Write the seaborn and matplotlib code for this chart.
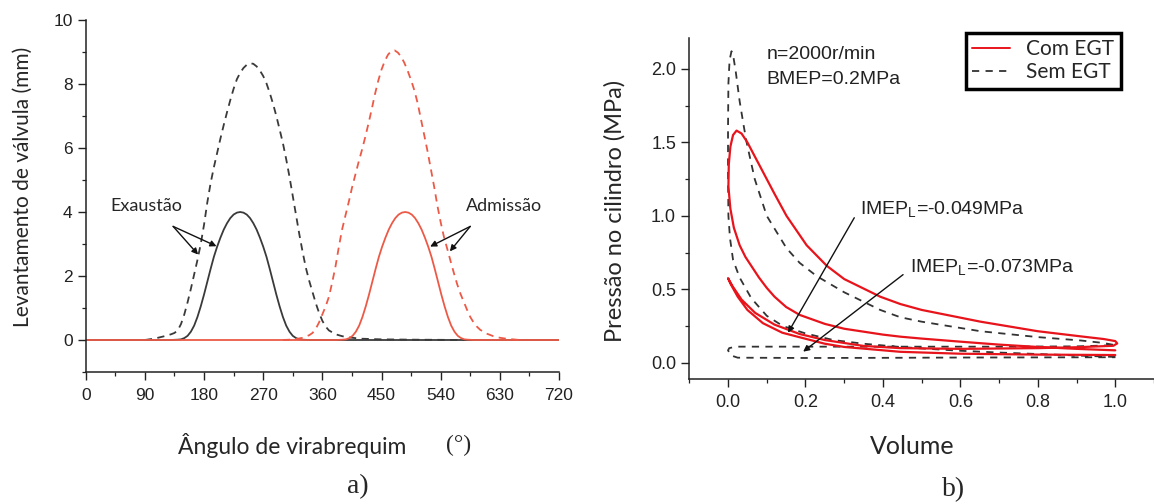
import matplotlib
matplotlib.use("Agg")
import matplotlib.pyplot as plt
from matplotlib.lines import Line2D
from matplotlib.ticker import MultipleLocator
import seaborn as sns
import pandas as pd

# ---------------- data: panel a) valve lift ----------------
exh_egt_angle = [0, 130, 140, 145, 150, 155, 160, 165, 170, 175, 180, 185, 190, 195, 200, 205, 210, 215,
                 220, 225, 230, 235, 240, 245, 250, 255, 260, 265, 270, 275, 280, 285, 290, 295, 300,
                 305, 310, 315, 320, 325, 330, 340, 720]
exh_egt_lift = [0, 0, 0.01, 0.02, 0.06, 0.13, 0.26, 0.45, 0.72, 1.05, 1.42, 1.82, 2.22, 2.6, 2.92, 3.2,
                3.45, 3.65, 3.81, 3.92, 3.98, 4.0, 3.98, 3.92, 3.81, 3.65, 3.45, 3.2, 2.92, 2.6, 2.22,
                1.82, 1.42, 1.05, 0.72, 0.45, 0.26, 0.13, 0.06, 0.02, 0.01, 0, 0]

int_egt_angle = [0, 381, 391, 396, 401, 406, 411, 416, 421, 426, 431, 436, 441, 446, 451, 456, 461, 466,
                 471, 476, 481, 486, 491, 496, 501, 506, 511, 516, 521, 526, 531, 536, 541, 546, 551,
                 556, 561, 566, 571, 576, 581, 591, 720]
int_egt_lift = [0, 0, 0.01, 0.02, 0.06, 0.13, 0.26, 0.45, 0.72, 1.05, 1.42, 1.82, 2.22, 2.6, 2.92, 3.2,
                3.45, 3.65, 3.81, 3.92, 3.98, 4.0, 3.98, 3.92, 3.81, 3.65, 3.45, 3.2, 2.92, 2.6, 2.22,
                1.82, 1.42, 1.05, 0.72, 0.45, 0.26, 0.13, 0.06, 0.02, 0.01, 0, 0]

exh_base_angle = [90, 100, 110, 120, 130, 135, 140, 145, 150, 155, 160, 165, 170, 175, 180, 185, 190,
                  195, 200, 205, 210, 215, 220, 225, 230, 235, 240, 245, 250, 255, 260, 265, 270, 275,
                  280, 285, 290, 295, 300, 305, 310, 315, 320, 325, 330, 335, 340, 345, 350, 355, 360,
                  365, 370, 380, 390, 400, 420, 450, 500, 580]
exh_base_lift = [0.0, 0.03, 0.07, 0.12, 0.18, 0.22, 0.3, 0.5, 0.8, 1.18, 1.6, 2.05, 2.5, 3.0, 3.6, 4.3,
                 4.9, 5.4, 5.85, 6.3, 6.72, 7.12, 7.5, 7.85, 8.15, 8.35, 8.5, 8.6, 8.65, 8.63, 8.55,
                 8.42, 8.25, 8.02, 7.72, 7.38, 7.0, 6.58, 6.15, 5.65, 5.1, 4.5, 3.9, 3.3, 2.75, 2.25,
                 1.85, 1.5, 1.15, 0.85, 0.6, 0.42, 0.3, 0.18, 0.12, 0.08, 0.04, 0.02, 0.01, 0.0]

int_base_angle = [300, 310, 320, 330, 340, 345, 350, 355, 360, 365, 370, 375, 380, 385, 390, 395, 400,
                  405, 410, 415, 420, 425, 430, 435, 440, 445, 450, 455, 460, 465, 470, 475, 480, 485,
                  490, 495, 500, 505, 510, 515, 520, 525, 530, 535, 540, 545, 550, 555, 560, 565, 570,
                  575, 580, 585, 590, 595, 600, 610, 620, 630, 640, 650, 660]
int_base_lift = [0.0, 0.01, 0.03, 0.07, 0.15, 0.22, 0.35, 0.55, 0.8, 1.05, 1.35, 1.8, 2.3, 2.9, 3.45,
                 3.88, 4.3, 4.75, 5.15, 5.55, 5.92, 6.32, 6.75, 7.2, 7.68, 8.1, 8.45, 8.72, 8.92, 9.03,
                 9.05, 8.98, 8.85, 8.65, 8.4, 8.12, 7.8, 7.4, 6.9, 6.4, 5.9, 5.35, 4.8, 4.2, 3.68, 3.22,
                 2.85, 2.47, 2.1, 1.75, 1.45, 1.2, 0.95, 0.72, 0.55, 0.42, 0.32, 0.2, 0.12, 0.07, 0.04,
                 0.02, 0.0]

# ---------------- data: panel b) p-V loops ----------------
egt_volume = [1.0, 0.9, 0.8, 0.7, 0.6, 0.5, 0.445, 0.4, 0.3, 0.25, 0.185, 0.15, 0.12, 0.1, 0.08, 0.06,
              0.045, 0.03, 0.015, 0.006, 0.001, 0.002, 0.006, 0.013, 0.022,
              0.035, 0.05, 0.07, 0.09, 0.12, 0.151, 0.203, 0.255, 0.3, 0.393, 0.445, 0.5, 0.652, 0.8,
              0.911, 0.97, 1.0, 1.005, 0.995,
              0.9, 0.8, 0.6, 0.445, 0.35, 0.25, 0.185, 0.12, 0.07, 0.035, 0.012, 0.0,
              0.006, 0.025, 0.05, 0.09, 0.14, 0.185, 0.25, 0.3, 0.445, 0.6, 0.8, 1.0]
egt_pressure = [0.085, 0.095, 0.108, 0.124, 0.144, 0.165, 0.178, 0.192, 0.232, 0.265, 0.326, 0.38, 0.45,
                0.51, 0.58, 0.66, 0.72, 0.80, 0.92, 1.05, 1.2, 1.35, 1.47, 1.55, 1.58,
                1.56, 1.5, 1.4, 1.3, 1.15, 1.0, 0.8, 0.66, 0.57, 0.45, 0.40, 0.36, 0.28, 0.215,
                0.18, 0.162, 0.148, 0.132, 0.116,
                0.106, 0.1, 0.095, 0.1, 0.115, 0.155, 0.196, 0.26, 0.34, 0.43, 0.52, 0.576,
                0.54, 0.45, 0.36, 0.27, 0.205, 0.174, 0.13, 0.108, 0.075, 0.062, 0.056, 0.053]

base_volume = [1.0, 0.9, 0.8, 0.7, 0.6, 0.5, 0.445, 0.35, 0.272, 0.2, 0.142, 0.1, 0.06, 0.03, 0.013,
               0.005, 0.001, 0.0, 0.0, 0.001, 0.004, 0.009,
               0.014, 0.02, 0.03, 0.04, 0.048, 0.069, 0.1, 0.151, 0.185, 0.229, 0.3, 0.393, 0.445,
               0.5, 0.652, 0.8, 0.911, 0.97, 1.0,
               0.9, 0.7, 0.5, 0.3, 0.1, 0.02, 0.003, 0.0, 0.008, 0.025, 0.2, 0.4, 0.6, 0.8, 1.0]
base_pressure = [0.04, 0.05, 0.06, 0.07, 0.082, 0.098, 0.108, 0.13, 0.155, 0.2, 0.25, 0.32, 0.44, 0.58,
                 0.70, 0.85, 1.0, 1.3, 1.6, 1.9, 2.06, 2.12,
                 2.08, 1.98, 1.78, 1.62, 1.5, 1.25, 1.0, 0.78, 0.68, 0.59, 0.48, 0.36, 0.31,
                 0.28, 0.215, 0.175, 0.152, 0.135, 0.12,
                 0.112, 0.11, 0.11, 0.11, 0.11, 0.11, 0.1, 0.085, 0.05, 0.035, 0.033, 0.034, 0.036,
                 0.037, 0.038]

legend_labels = ["Com EGT", "Sem EGT"]
a_xticks = [0, 90, 180, 270, 360, 450, 540, 630, 720]
a_yticks = [0, 2, 4, 6, 8, 10]
b_xticks = [0.0, 0.2, 0.4, 0.6, 0.8, 1.0]
b_yticks = [0.0, 0.5, 1.0, 1.5, 2.0]

# ---------------- style ----------------
sns.set_style("ticks")
plt.rcParams["font.family"] = ["Liberation Sans", "DejaVu Sans"]
plt.rcParams["mathtext.fontset"] = "custom"
plt.rcParams["mathtext.rm"] = "Liberation Sans"

W, H = 1154, 504
fig = plt.figure(figsize=(W / 100, H / 100), dpi=100)
fig.patch.set_facecolor("white")

def fx(px):
    return px / W

def fy(py):
    return 1 - py / H

BLACK = "#3a3a3a"
SALMON = "#ec5a47"
RED = "#e8141c"
TICKFONT = ["Liberation Sans", "DejaVu Sans"]
LABELFONT = ["Lato", "DejaVu Sans"]
SERIF = ["Liberation Serif", "DejaVu Serif"]

def style_axes(ax, size):
    sns.despine(ax=ax)
    for s in ("left", "bottom"):
        ax.spines[s].set_linewidth(1.1)
        ax.spines[s].set_color("#222222")
    ax.tick_params(which="major", direction="out", length=5.5, width=1.0, color="#222222",
                   labelsize=size, labelcolor="#222222", pad=4)
    ax.tick_params(which="minor", direction="out", length=3, width=0.9, color="#222222")
    for lab in ax.get_xticklabels() + ax.get_yticklabels():
        lab.set_family(TICKFONT)
    ax.set_xlabel("")
    ax.set_ylabel("")
    ax.set_facecolor("white")

# ---------------- panel a) ----------------
axa = fig.add_axes([fx(85.7), fy(372), fx(559 - 85.7), (372 - 20) / H])
sns.lineplot(x=exh_base_angle, y=exh_base_lift, ax=axa, color=BLACK, lw=1.3, sort=False,
             estimator=None, linestyle=(0, (4, 3)))
sns.lineplot(x=exh_egt_angle, y=exh_egt_lift, ax=axa, color=BLACK, lw=1.3, sort=False, estimator=None)
sns.lineplot(x=int_base_angle, y=int_base_lift, ax=axa, color=SALMON, lw=1.3, sort=False,
             estimator=None, linestyle=(0, (4, 3)))
sns.lineplot(x=int_egt_angle, y=int_egt_lift, ax=axa, color=SALMON, lw=1.3, sort=False, estimator=None)
axa.set_xlim(0, 720)
axa.set_ylim(-1, 10)
axa.set_xticks(a_xticks)
axa.set_yticks(a_yticks)
axa.xaxis.set_minor_locator(MultipleLocator(45))
axa.yaxis.set_minor_locator(MultipleLocator(1))
style_axes(axa, 12.5)
axa.tick_params(axis="x", pad=6)

arrow_kw = dict(arrowstyle="-|>", color="#111111", lw=1.0, mutation_scale=9, shrinkA=0, shrinkB=0)
axa.text(92, 4.2, "Exaustão", family=LABELFONT, fontsize=13, ha="center", va="center")
axa.annotate("", xy=(199, 2.93), xytext=(133, 3.55), arrowprops=arrow_kw)
axa.annotate("", xy=(171, 2.67), xytext=(133, 3.55), arrowprops=arrow_kw)
axa.text(637, 4.2, "Admissão", family=LABELFONT, fontsize=13, ha="center", va="center")
axa.annotate("", xy=(524, 2.92), xytext=(585, 3.55), arrowprops=arrow_kw)
axa.annotate("", xy=(554, 2.77), xytext=(585, 3.55), arrowprops=arrow_kw)

fig.text(fx(23), fy(187), "Levantamento de válvula (mm)", rotation=90, family=LABELFONT,
         fontsize=15, ha="center", va="center")
fig.text(fx(292), fy(445), "Ângulo de virabrequim", family=LABELFONT, fontsize=16.5,
         ha="center", va="center")
fig.text(fx(459), fy(445), "(°)", family=SERIF, fontsize=17, ha="center", va="center")
fig.text(fx(358), fy(487), "a)", family=SERIF, fontsize=20, ha="center", va="center")

# ---------------- panel b) ----------------
axb = fig.add_axes([fx(689.3), fy(379), fx(1154 - 689.3), (379 - 38) / H])
df_egt = pd.DataFrame({"Volume": egt_volume, "P": egt_pressure})
df_base = pd.DataFrame({"Volume": base_volume, "P": base_pressure})
sns.lineplot(data=df_base, x="Volume", y="P", ax=axb, color="#333333", lw=1.3, sort=False,
             estimator=None, linestyle=(0, (4, 3.5)))
sns.lineplot(data=df_egt, x="Volume", y="P", ax=axb, color=RED, lw=1.6, sort=False, estimator=None)
axb.set_xlim(-0.1, 1.1)
axb.set_ylim(-0.11, 2.21)
axb.set_xticks(b_xticks)
axb.set_yticks(b_yticks)
axb.xaxis.set_minor_locator(MultipleLocator(0.1))
axb.yaxis.set_minor_locator(MultipleLocator(0.25))
style_axes(axb, 13)
axb.tick_params(axis="x", pad=5)

axb.text(0.1, 2.095, "n=2000r/min", fontsize=14, ha="left", va="center", color="#222222")
axb.text(0.1, 1.925, "BMEP=0.2MPa", fontsize=14, ha="left", va="center", color="#222222")
axb.text(0.341, 1.04, r"IMEP$_{\mathregular{L}}$=-0.049MPa", fontsize=14, ha="left", va="center",
         color="#222222")
axb.text(0.47, 0.645, r"IMEP$_{\mathregular{L}}$=-0.073MPa", fontsize=14, ha="left", va="center",
         color="#222222")
axb.annotate("", xy=(0.155, 0.205), xytext=(0.326, 0.987), arrowprops=arrow_kw)
axb.annotate("", xy=(0.194, 0.076), xytext=(0.452, 0.60), arrowprops=arrow_kw)

handles = [Line2D([], [], color=RED, lw=1.4),
           Line2D([], [], color="#333333", lw=1.3, linestyle=(0, (4, 3.5)))]
leg = axb.legend(handles, legend_labels, loc="upper left",
                 bbox_to_anchor=(fx(966), fy(33)), bbox_transform=fig.transFigure,
                 frameon=True, fancybox=False, edgecolor="black", framealpha=1,
                 prop={"family": LABELFONT, "size": 15}, handlelength=1.8, handletextpad=0.8,
                 borderpad=0.3, labelspacing=0.15, borderaxespad=0)
leg.get_frame().set_linewidth(2.5)

fig.text(fx(615), fy(211), "Pressão no cilindro (MPa)", rotation=90, family=LABELFONT,
         fontsize=17, ha="center", va="center")
fig.text(fx(912), fy(447), "Volume", family=LABELFONT, fontsize=18, ha="center", va="center")
fig.text(fx(954), fy(490), "b)", family=SERIF, fontsize=20, ha="center", va="center")

fig.savefig("out.png", dpi=100, facecolor="white")
